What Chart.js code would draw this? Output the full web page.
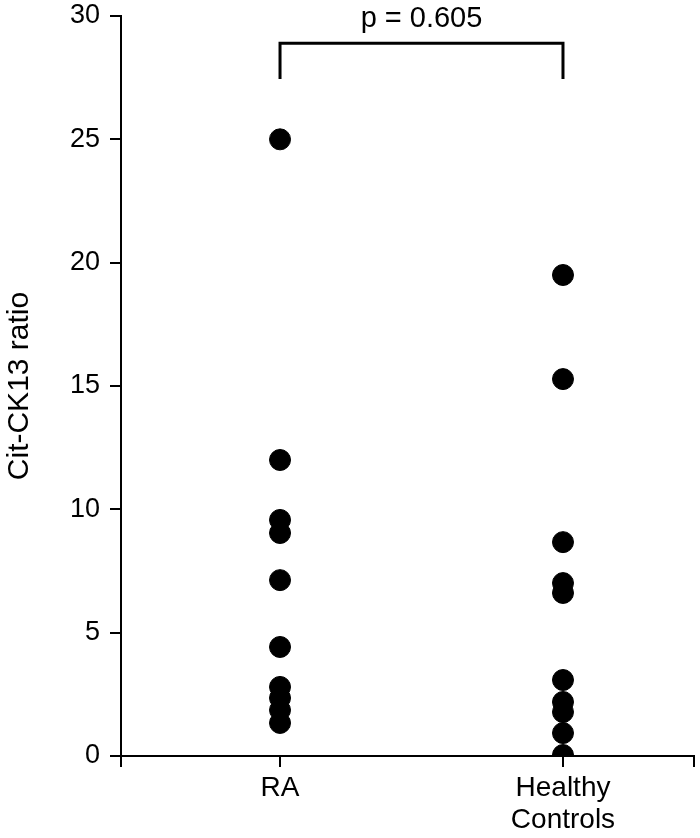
<!DOCTYPE html>
<html>
<head>
<meta charset="utf-8">
<script src="https://cdn.jsdelivr.net/npm/chart.js@4"></script>
<style>
html,body{margin:0;padding:0;background:#fff;}
#wrap{width:700px;height:838px;}
</style>
</head>
<body>
<div id="wrap"><canvas id="scatterChart"></canvas></div>
<script>
// groups and values
const groups = ['RA', ['Healthy', 'Controls']];
const raValues = [25, 12, 9.57, 9.04, 7.13, 4.42, 2.8, 2.35, 1.86, 1.34];
const hcValues = [19.5, 15.28, 8.67, 7.01, 6.61, 3.08, 2.19, 1.78, 0.93, 0.04];
const yTicks = [0, 5, 10, 15, 20, 25, 30];
const yTitle = 'Cit-CK13 ratio';
const pText = 'p = 0.605';
const bracket = [27.45, 28.9];

Chart.defaults.font.family = "'Liberation Sans', Arial, sans-serif";
Chart.defaults.color = '#000';

const FS = 28;

const pLabel = {
  id: 'pLabel',
  afterDatasetsDraw(chart) {
    const x = chart.scales.x, y = chart.scales.y;
    const ctx = chart.ctx;
    ctx.save();
    ctx.fillStyle = '#000';
    ctx.font = "29px 'Liberation Sans', Arial, sans-serif";
    ctx.textAlign = 'center';
    ctx.textBaseline = 'alphabetic';
    ctx.fillText(pText, (x.getPixelForValue(1) + x.getPixelForValue(2)) / 2, y.getPixelForValue(29.55));
    ctx.restore();
  }
};

function noPad(s) {
  s.paddingTop = 0; s.paddingBottom = 0; s.paddingLeft = 0; s.paddingRight = 0;
}

new Chart(document.getElementById('scatterChart').getContext('2d'), {
  type: 'scatter',
  data: {
    datasets: [
      {
        data: raValues.map(v => ({x: 1, y: v})),
        backgroundColor: '#000', borderColor: '#000',
        pointRadius: 10.5, pointHoverRadius: 10.5
      },
      {
        data: hcValues.map(v => ({x: 2, y: v})),
        backgroundColor: '#000', borderColor: '#000',
        pointRadius: 10.5, pointHoverRadius: 10.5
      },
      {
        type: 'line',
        data: [{x: 1, y: bracket[0]}, {x: 1, y: bracket[1]}, {x: 2, y: bracket[1]}, {x: 2, y: bracket[0]}],
        borderColor: '#000', borderWidth: 3, pointRadius: 0, fill: false,
        borderCapStyle: 'butt', borderJoinStyle: 'miter', tension: 0
      }
    ]
  },
  options: {
    responsive: true,
    maintainAspectRatio: false,
    animation: false,
    layout: {autoPadding: false, padding: {top: 16, right: 6, left: 0, bottom: 0}},
    plugins: {legend: {display: false}, tooltip: {enabled: false}},
    scales: {
      x: {
        type: 'linear',
        min: 0.438,
        max: 2.463,
        afterBuildTicks: s => { s.ticks = [s.min, 1, 2, s.max].map(v => ({value: v})); },
        afterFit: s => { s.height = 82; noPad(s); },
        ticks: {
          autoSkip: false, maxRotation: 0, padding: 5,
          font: {size: FS, lineHeight: 1.15},
          callback: v => v === 1 ? groups[0] : (v === 2 ? groups[1] : '')
        },
        grid: {drawOnChartArea: false, drawTicks: true, tickLength: 11, color: '#000', lineWidth: 2},
        border: {color: '#000', width: 2}
      },
      y: {
        min: 0,
        max: 30,
        afterBuildTicks: s => { s.ticks = yTicks.map(v => ({value: v})); },
        afterFit: s => { s.width = 121; noPad(s); },
        ticks: {padding: 10, font: {size: 27}},
        grid: {drawOnChartArea: false, drawTicks: true, tickLength: 11, color: '#000', lineWidth: 2},
        border: {color: '#000', width: 2},
        title: {display: true, text: yTitle, font: {size: 30}, padding: {top: 2, bottom: 0}}
      }
    }
  },
  plugins: [pLabel]
});
</script>
</body>
</html>
